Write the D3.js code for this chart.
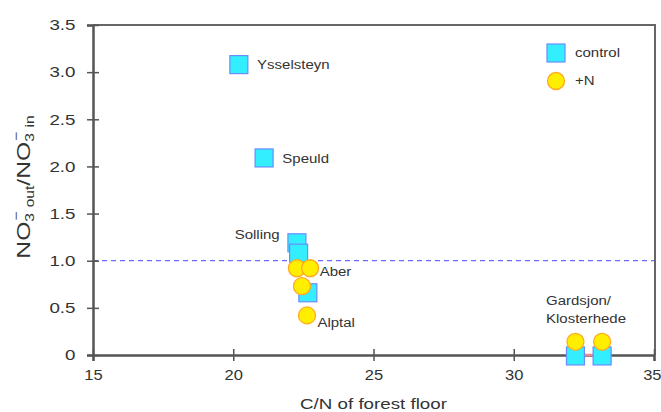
<!DOCTYPE html>
<html><head><meta charset="utf-8">
<script src="https://cdn.jsdelivr.net/npm/d3@7"></script>
<style>body{margin:0;background:#fff}svg{display:block}text{font-family:"Liberation Sans",Arial,sans-serif}</style>
</head><body>
<svg id="c" width="661" height="412"></svg>
<script>
const xTicks = [15, 20, 25, 30, 35];
const yTicks = [0, 0.5, 1.0, 1.5, 2.0, 2.5, 3.0, 3.5];
const yTickLabels = ["0", "0.5", "1.0", "1.5", "2.0", "2.5", "3.0", "3.5"];
const controlX = [20.2, 21.1, 22.27, 22.33, 22.66, 32.2, 33.15];
const controlY = [3.08, 2.09, 1.19, 1.08, 0.66, -0.01, -0.01];
const plusNX = [22.27, 22.74, 22.45, 22.63, 32.2, 33.15];
const plusNY = [0.92, 0.92, 0.73, 0.42, 0.14, 0.14];
const siteLabels = ["Ysselsteyn", "Speuld", "Solling", "Aber", "Alptal", "Gardsjon/", "Klosterhede"];
const labelX = [20.85, 21.75, 20.05, 23.08, 23.0, 31.15, 31.15];
const labelY = [3.08, 2.08, 1.27, 0.88, 0.34, 0.58, 0.38];
const refLine = 1.0;

const K = 1.25; // horizontal text stretch
const svg = d3.select("#c");
const x = d3.scaleLinear().domain([15, 35]).range([93, 654]);
const y = d3.scaleLinear().domain([0, 3.5]).range([355, 25]);

// frame top & right
svg.append("line").attr("x1", 93).attr("x2", 656).attr("y1", 25).attr("y2", 25).attr("stroke", "#666").attr("stroke-width", 2);
svg.append("line").attr("x1", 655).attr("x2", 655).attr("y1", 25).attr("y2", 355).attr("stroke", "#666").attr("stroke-width", 2);

// dashed reference
svg.append("line").attr("x1", x(15)).attr("x2", x(35)).attr("y1", y(refLine)).attr("y2", y(refLine))
  .attr("stroke", "#6b6bff").attr("stroke-width", 1.3).attr("stroke-dasharray", "5,4");

// axes
const yAx = svg.append("g").attr("transform", `translate(${x(15)},0)`)
  .call(d3.axisLeft(y).tickValues(yTicks).tickFormat((d, i) => yTickLabels[i]).tickSize(6).tickPadding(8));
const xAx = svg.append("g").attr("transform", `translate(0,${y(0)})`)
  .call(d3.axisBottom(x).tickValues(xTicks).tickFormat(d3.format("d")).tickSize(6).tickPadding(8));
[yAx, xAx].forEach(g => {
  g.select(".domain").attr("stroke", "#555").attr("stroke-width", 2.5);
  g.selectAll(".tick line").attr("stroke", "#555").attr("stroke-width", 1.5);
  g.selectAll(".tick text").attr("fill", "#333").attr("font-size", 15)
    .attr("font-family", "Liberation Sans, Arial, sans-serif");
});
yAx.selectAll(".tick text").attr("transform", `scale(${K},1)`);
xAx.selectAll(".tick text").attr("transform", `scale(1.1,1)`);
xAx.selectAll(".tick").filter(d => d === 35).select("text").attr("x", -2);
yAx.selectAll(".tick line").attr("x1", 6);
xAx.selectAll(".tick line").attr("y1", -6);

// small connecting segment at Gardsjon/Klosterhede
svg.append("line").attr("x1", x(controlX[5])).attr("x2", x(controlX[6])).attr("y1", y(0)).attr("y2", y(0))
  .attr("stroke", "#f08a8a").attr("stroke-width", 2.5);

// control squares
const s = 18;
svg.selectAll("rect.ctl").data(controlX).join("rect").attr("class", "ctl")
  .attr("x", (d) => x(d) - s / 2).attr("y", (d, i) => y(controlY[i]) - s / 2)
  .attr("width", s).attr("height", s).attr("fill", "#33eeff").attr("stroke", "#6a8cff").attr("stroke-width", 1.2);

// +N circles
svg.selectAll("circle.pn").data(plusNX).join("circle").attr("class", "pn")
  .attr("cx", (d) => x(d)).attr("cy", (d, i) => y(plusNY[i])).attr("r", 8.5)
  .attr("fill", "#ffee00").attr("stroke", "#ffaa22").attr("stroke-width", 1.3);

// site labels
svg.selectAll("text.site").data(siteLabels).join("text").attr("class", "site")
  .attr("transform", (d, i) => `translate(${x(labelX[i])},${y(labelY[i])}) scale(${K},1)`)
  .attr("dy", "0.35em").attr("font-size", 12).attr("fill", "#333").text(d => d);

// legend
svg.append("rect").attr("x", 547).attr("y", 44).attr("width", s).attr("height", s)
  .attr("fill", "#33eeff").attr("stroke", "#6a8cff").attr("stroke-width", 1.2);
svg.append("text").attr("transform", `translate(575,53) scale(${K},1)`).attr("dy", "0.35em")
  .attr("font-size", 12).attr("fill", "#333").text("control");
svg.append("circle").attr("cx", 556).attr("cy", 81).attr("r", 8.5)
  .attr("fill", "#ffee00").attr("stroke", "#ffaa22").attr("stroke-width", 1.3);
svg.append("text").attr("transform", `translate(575,81) scale(${K},1)`).attr("dy", "0.35em")
  .attr("font-size", 12).attr("fill", "#333").text("+N");

// axis titles
svg.append("text").attr("transform", `translate(${(x(15) + x(35)) / 2},409) scale(${K},1)`).attr("text-anchor", "middle")
  .attr("font-size", 15).attr("fill", "#333").text("C/N of forest floor");

const yt = svg.append("text").attr("transform", `translate(30,187) rotate(-90) scale(1.3,1)`).attr("text-anchor", "middle")
  .attr("font-size", 19).attr("fill", "#333");
yt.append("tspan").text("NO");
yt.append("tspan").attr("font-size", 12).attr("dy", 4).text("3");
yt.append("tspan").attr("font-size", 12).attr("dx", -6).attr("dy", -14).text("−");
yt.append("tspan").attr("font-size", 12).attr("dy", 14).text(" out");
yt.append("tspan").attr("dy", -4).text("/NO");
yt.append("tspan").attr("font-size", 12).attr("dy", 4).text("3");
yt.append("tspan").attr("font-size", 12).attr("dx", -6).attr("dy", -14).text("−");
yt.append("tspan").attr("font-size", 12).attr("dy", 14).text(" in");
</script>
</body></html>
